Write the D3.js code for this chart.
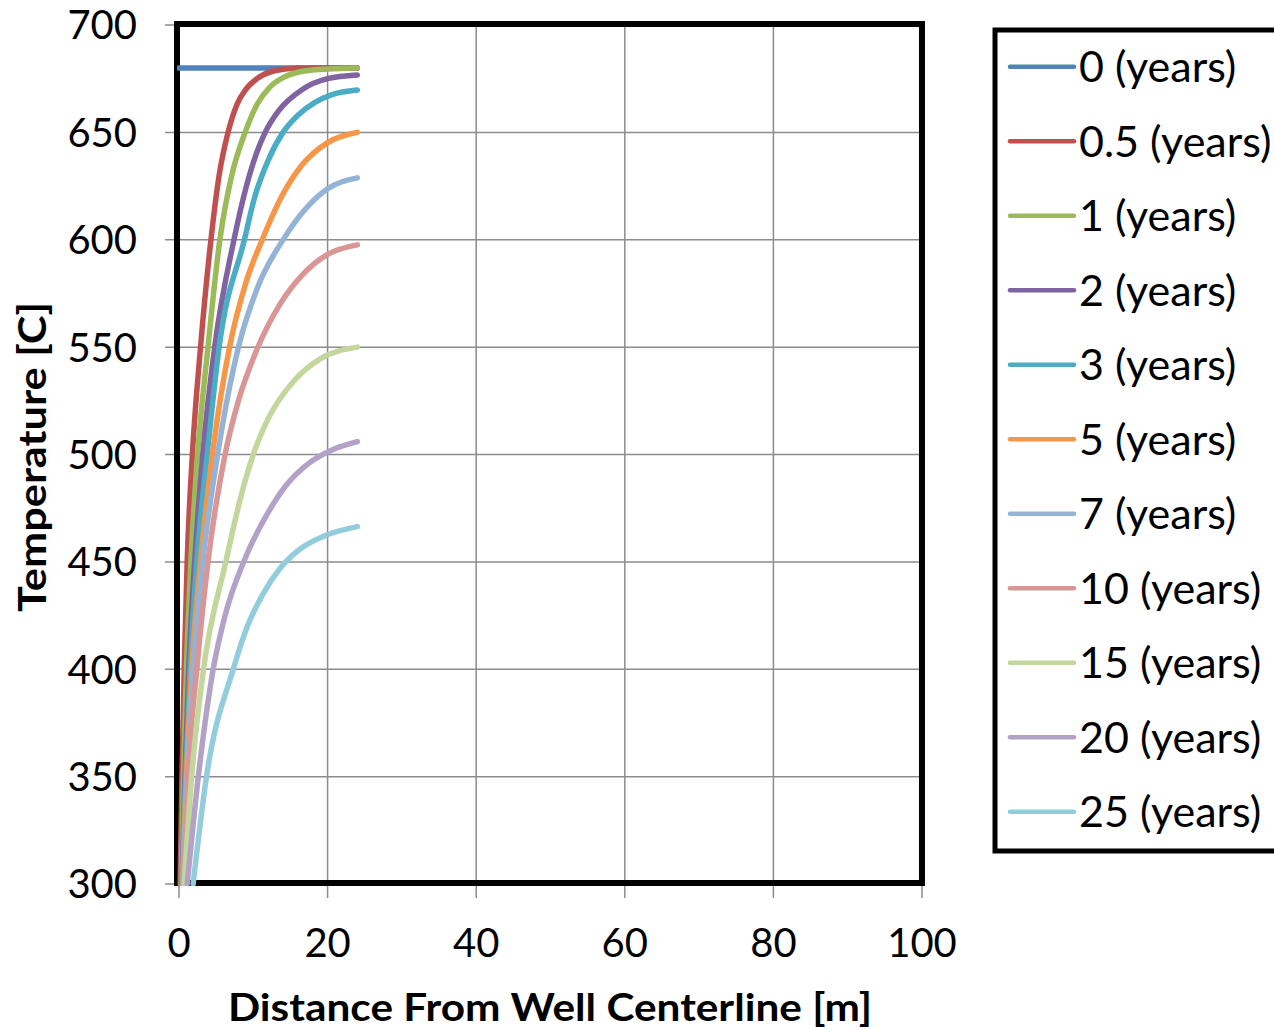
<!DOCTYPE html>
<html>
<head>
<meta charset="utf-8">
<script src="https://cdn.jsdelivr.net/npm/d3@7"></script>
<style>
  body { margin: 0; background: #fff; }
  text { font-family: Lato, "Open Sans", sans-serif; fill: #000; }
</style>
</head>
<body>
<svg id="chart" width="1274" height="1030"></svg>
<script>
// 年份（圖例）
const years = ["0", "0.5", "1", "2", "3", "5", "7", "10", "15", "20", "25"];
const colors = ["#4F81BD", "#C0504D", "#9BBB59", "#8064A2", "#4BACC6", "#F79646",
                "#95B3D7", "#D99694", "#C3D69B", "#B3A2C7", "#93CDDD"];

// 每條曲線：[距離 m, 溫度 C]
const t0   = [[0, 680], [24, 680]];
const t05  = [[0.15, 300], [0.4, 350], [0.7, 400], [1.1, 450], [1.8, 500], [2.9, 550], [4.3, 600], [5.4, 630], [6.6, 650], [7.8, 663], [9, 670], [10.5, 675], [13, 678.8], [16, 680], [24, 680]];
const t1   = [[0.3, 300], [0.6, 350], [1.0, 400], [1.6, 450], [2.5, 500], [3.9, 550], [5.5, 600], [7.1, 630], [8.9, 650], [10.5, 663], [12.2, 671], [14, 675.5], [16, 678], [20, 679.5], [24, 680]];
const t2   = [[0.4, 300], [0.8, 350], [1.3, 400], [2.1, 450], [3.2, 500], [4.8, 550], [7.4, 600], [8.7, 620], [10.4, 640], [11.6, 650], [13.4, 660], [16.6, 670], [20, 675], [24, 676.7]];
const t3   = [[0.4, 300], [0.9, 350], [1.5, 400], [2.4, 450], [3.8, 500], [5.4, 550], [8.8, 600], [10.2, 620], [12, 637], [14, 650], [16, 658], [18.3, 664], [20.5, 667.5], [24, 669.7]];
const t5   = [[0.5, 300], [1.0, 350], [1.7, 400], [2.9, 450], [4.5, 500], [6.8, 550], [9.0, 580], [11.2, 600], [13.8, 620], [16.6, 635], [19.9, 645], [24, 650]];
const t7   = [[0.5, 300], [1.1, 350], [1.9, 400], [3.2, 450], [5.2, 500], [8.0, 550], [10.6, 578], [14.2, 601], [16.7, 613], [19.9, 623.5], [24, 628.8]];
const t10  = [[0.6, 300], [1.2, 350], [2.4, 400], [3.9, 450], [6.2, 500], [8.0, 525], [10.5, 549], [13.6, 570], [16.7, 584], [19.9, 593], [24, 597.6]];
const t15  = [[0.7, 300], [1.7, 350], [3.3, 400], [6.3, 450], [8.3, 480], [10.2, 502], [12.2, 518], [15.4, 534], [19, 544.5], [24, 550]];
const t20  = [[1.1, 300], [2.6, 350], [4.6, 400], [6.2, 425], [8.7, 450], [12, 473], [14.5, 486], [17.5, 496], [20.5, 502], [24, 506]];
const t25  = [[1.9, 300], [3.7, 350], [7.3, 400], [9.2, 420], [11.3, 435], [13.6, 447], [16.3, 456], [19.5, 462], [24, 466.4]];
const profiles = [t0, t05, t1, t2, t3, t5, t7, t10, t15, t20, t25];

const xTicks = [0, 20, 40, 60, 80, 100];
const yTicks = [300, 350, 400, 450, 500, 550, 600, 650, 700];

const svg = d3.select("#chart");
const plotLeft = 177, plotRight = 922, plotTop = 24, plotBottom = 884;

const x = d3.scaleLinear().domain([0, 100]).range([plotLeft + 2, plotRight]);
const y = d3.scaleLinear().domain([300, 700]).range([plotBottom, plotTop + 1]);

// 格線
svg.append("g").selectAll("line").data(xTicks).enter().append("line")
    .attr("x1", d => x(d)).attr("x2", d => x(d))
    .attr("y1", plotTop).attr("y2", plotBottom + 14)
    .attr("stroke", "#8c8c8c").attr("stroke-width", 1.5);
svg.append("g").selectAll("line").data(yTicks).enter().append("line")
    .attr("x1", plotLeft - 12).attr("x2", plotRight)
    .attr("y1", d => y(d)).attr("y2", d => y(d))
    .attr("stroke", "#8c8c8c").attr("stroke-width", 1.5);

// 外框
svg.append("rect")
    .attr("x", plotLeft).attr("y", plotTop)
    .attr("width", plotRight - plotLeft).attr("height", plotBottom - plotTop - 1)
    .attr("fill", "none").attr("stroke", "#000").attr("stroke-width", 6);

// 刻度文字
svg.append("g").selectAll("text").data(xTicks).enter().append("text")
    .attr("x", d => x(d)).attr("y", 957)
    .attr("text-anchor", "middle").attr("font-size", 40)
    .text(d => d);
svg.append("g").selectAll("text").data(yTicks).enter().append("text")
    .attr("x", 137).attr("y", d => y(d)).attr("dy", "0.36em")
    .attr("text-anchor", "end").attr("font-size", 40)
    .text(d => d);

// 軸標題
svg.append("text")
    .attr("x", 550).attr("y", 1021)
    .attr("text-anchor", "middle").attr("font-size", 38).attr("font-weight", "bold")
    .attr("textLength", 644).attr("lengthAdjust", "spacingAndGlyphs")
    .text("Distance From Well Centerline [m]");
svg.append("text")
    .attr("transform", "translate(46,457) rotate(-90)")
    .attr("text-anchor", "middle").attr("font-size", 38).attr("font-weight", "bold")
    .attr("textLength", 310).attr("lengthAdjust", "spacingAndGlyphs")
    .text("Temperature [C]");

// 曲線（裁切在繪圖區內）
svg.append("clipPath").attr("id", "plot-clip")
    .append("rect").attr("x", plotLeft).attr("y", plotTop)
    .attr("width", plotRight - plotLeft).attr("height", plotBottom - plotTop + 2);

const line = d3.line()
    .x(d => x(d[0]))
    .y(d => y(d[1]))
    .curve(d3.curveMonotoneX);

svg.append("g").attr("clip-path", "url(#plot-clip)")
    .selectAll("path").data(profiles).enter().append("path")
    .attr("d", line)
    .attr("fill", "none")
    .attr("stroke", (d, i) => colors[i])
    .attr("stroke-width", 5.5)
    .attr("stroke-linecap", "round");

// 圖例
svg.append("rect")
    .attr("x", 995).attr("y", 30)
    .attr("width", 300).attr("height", 821)
    .attr("fill", "#fff").attr("stroke", "#000").attr("stroke-width", 5);

const legend = svg.append("g").selectAll("g").data(years).enter().append("g")
    .attr("transform", (d, i) => `translate(0,${66.7 + i * 74.5})`);
legend.append("line")
    .attr("x1", 1010).attr("x2", 1074)
    .attr("stroke", (d, i) => colors[i]).attr("stroke-width", 4.5)
    .attr("stroke-linecap", "round");
legend.append("text")
    .attr("x", 1079).attr("dy", "0.36em")
    .attr("font-size", 43)
    .text(d => d + " (years)");
</script>
</body>
</html>
